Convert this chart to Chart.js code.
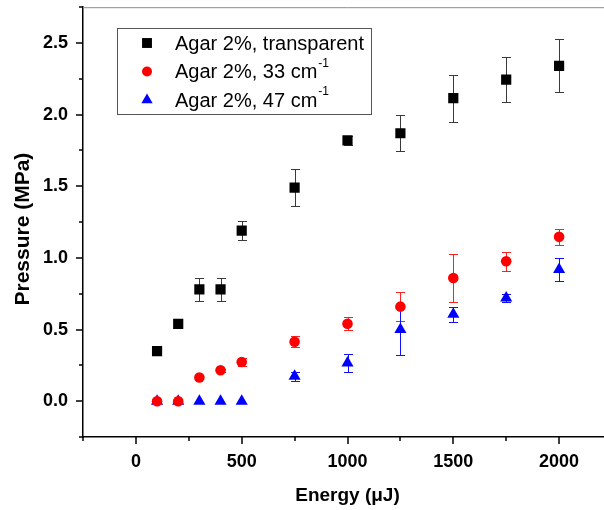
<!DOCTYPE html>
<html>
<head>
<meta charset="utf-8">
<script src="https://cdn.jsdelivr.net/npm/chart.js@4"></script>
<style>
  html, body { margin: 0; padding: 0; background: #fff; overflow: hidden; }
  #wrap { width: 604px; height: 510px; overflow: hidden; position: relative; }
  canvas { display: block; position: absolute; left: 0; top: 0; }
</style>
</head>
<body>
<div id="wrap"><canvas id="pressureChart" width="620" height="510"></canvas></div>
<script>
// laser pulse energy (uJ)
const energy = [100, 200, 300, 400, 500, 750, 1000, 1250, 1500, 1750, 2000];

// peak pressure (MPa) and standard deviation per sample
const transparent = [0.35, 0.54, 0.78, 0.78, 1.19, 1.49, 1.82, 1.87, 2.115, 2.245, 2.34];
const transparentErr = [0.02, 0.02, 0.08, 0.08, 0.065, 0.13, 0.03, 0.125, 0.165, 0.155, 0.185];
const mua33 = [0, 0, 0.165, 0.216, 0.274, 0.415, 0.541, 0.66, 0.86, 0.977, 1.147];
const mua33Err = [0.01, 0.01, 0.01, 0.01, 0.025, 0.04, 0.045, 0.1, 0.17, 0.065, 0.057];
const mua47 = [0, 0, 0, 0, 0, 0.174, 0.267, 0.5, 0.606, 0.72, 0.919];
const mua47Err = [0, 0, 0, 0, 0, 0.03, 0.065, 0.175, 0.05, 0.03, 0.08];

const seriesLabels = ["Agar 2%, transparent", "Agar 2%, 33 cm", "Agar 2%, 47 cm"];
const seriesSup = ["", "-1", "-1"];

const xTickLabels = [0, 500, 1000, 1500, 2000];
const yTickLabels = [0.0, 0.5, 1.0, 1.5, 2.0, 2.5];

const FONT = "Arial, 'Liberation Sans', sans-serif";

function points(ys) {
  return energy.map((x, i) => ({ x: x, y: ys[i] }));
}

function isMajor(list, v) {
  return list.some(t => Math.abs(t - v) < 1e-6);
}

// vertical error bars with caps, drawn under the markers
const errorBars = {
  id: "errorBars",
  beforeDatasetsDraw(chart) {
    const { ctx, scales: { x, y } } = chart;
    ctx.save();
    ctx.lineWidth = 1;
    chart.data.datasets.forEach(ds => {
      ctx.strokeStyle = ds.errColor;
      ds.data.forEach((p, i) => {
        const e = ds.err[i];
        if (!e) return;
        const px = Math.round(x.getPixelForValue(p.x));
        const top = Math.round(y.getPixelForValue(p.y + e));
        const bot = Math.round(y.getPixelForValue(p.y - e));
        ctx.beginPath();
        ctx.moveTo(px + 0.5, top);
        ctx.lineTo(px + 0.5, bot);
        ctx.moveTo(px - 4, top + 0.5);
        ctx.lineTo(px + 5, top + 0.5);
        ctx.moveTo(px - 4, bot + 0.5);
        ctx.lineTo(px + 5, bot + 0.5);
        ctx.stroke();
      });
    });
    ctx.restore();
  }
};

// outward tick marks (major + minor), grey top frame and the y title
const frame = {
  id: "frame",
  afterDraw(chart) {
    const { ctx, chartArea: a, scales: { x, y } } = chart;
    ctx.save();
    ctx.strokeStyle = "#000";
    ctx.lineWidth = 1.5;
    x.ticks.forEach(t => {
      const px = Math.round(x.getPixelForValue(t.value));
      const len = isMajor(xTickLabels, t.value) ? 7 : 4;
      ctx.beginPath();
      ctx.moveTo(px, a.bottom);
      ctx.lineTo(px, a.bottom + len);
      ctx.stroke();
    });
    y.ticks.forEach(t => {
      const py = Math.round(y.getPixelForValue(t.value));
      const len = isMajor(yTickLabels, t.value) ? 7 : 4;
      ctx.beginPath();
      ctx.moveTo(a.left - len, py);
      ctx.lineTo(a.left, py);
      ctx.stroke();
    });
    ctx.strokeStyle = "#8c8c8c";
    ctx.lineWidth = 1;
    ctx.beginPath();
    ctx.moveTo(a.left, a.top + 0.5);
    ctx.lineTo(a.right, a.top + 0.5);
    ctx.lineTo(a.right, a.bottom);
    ctx.stroke();

    // y axis title, sitting a little below the axis middle
    ctx.translate(23, (a.top + a.bottom) / 2 + 7);
    ctx.rotate(-Math.PI / 2);
    ctx.fillStyle = "#000";
    ctx.font = "bold 21px " + FONT;
    ctx.textAlign = "center";
    ctx.textBaseline = "middle";
    ctx.fillText("Pressure (MPa)", 0, 0);
    ctx.restore();
  }
};

// boxed legend with superscript units
const boxLegend = {
  id: "boxLegend",
  afterDraw(chart) {
    const ctx = chart.ctx;
    const bx = 117, by = 28, bw = 254, bh = 86;
    ctx.save();
    ctx.fillStyle = "#fff";
    ctx.fillRect(bx, by, bw, bh);
    ctx.strokeStyle = "#555";
    ctx.lineWidth = 1;
    ctx.strokeRect(bx + 0.5, by + 0.5, bw, bh);
    chart.data.datasets.forEach((ds, i) => {
      const rowY = 43 + i * 28.5;
      ctx.fillStyle = ds.backgroundColor;
      ctx.strokeStyle = ds.backgroundColor;
      Chart.helpers.drawPoint(ctx, {
        pointStyle: ds.pointStyle,
        radius: ds.legendRadius,
        rotation: 0,
        borderWidth: 0
      }, 147, rowY);
      ctx.fillStyle = "#000";
      ctx.textBaseline = "middle";
      ctx.font = "20px " + FONT;
      ctx.fillText(seriesLabels[i], 175, rowY + 1);
      if (seriesSup[i]) {
        const w = ctx.measureText(seriesLabels[i]).width;
        ctx.font = "12px " + FONT;
        ctx.fillText(seriesSup[i], 175 + w + 1, rowY - 8);
      }
    });
    ctx.restore();
  }
};

const tickFont = { family: FONT, size: 18, weight: "bold" };

new Chart(document.getElementById("pressureChart"), {
  type: "scatter",
  data: {
    datasets: [
      {
        label: seriesLabels[0],
        data: points(transparent),
        err: transparentErr,
        errColor: "#3a3a3a",
        pointStyle: "rect",
        pointRadius: 7.2,
        legendRadius: 7,
        backgroundColor: "#000000",
        borderColor: "#000000",
        borderWidth: 0
      },
      {
        label: seriesLabels[1] + seriesSup[1],
        data: points(mua33),
        err: mua33Err,
        errColor: "#ff2020",
        pointStyle: "circle",
        pointRadius: 5.3,
        legendRadius: 5,
        backgroundColor: "#ff0000",
        borderColor: "#ff0000",
        borderWidth: 0
      },
      {
        label: seriesLabels[2] + seriesSup[2],
        data: points(mua47),
        err: mua47Err,
        errColor: "#1010ff",
        pointStyle: "triangle",
        pointRadius: 7,
        legendRadius: 6.5,
        backgroundColor: "#0000ff",
        borderColor: "#0000ff",
        borderWidth: 0
      }
    ]
  },
  options: {
    responsive: false,
    animation: false,
    layout: { padding: { top: 6, right: 8, left: 34, bottom: 0 } },
    plugins: {
      legend: { display: false },
      tooltip: { enabled: false }
    },
    scales: {
      x: {
        type: "linear",
        min: -250,
        max: 2250,
        afterFit(s) {
          s.height = 73;
          s.paddingLeft = 0;
          s.paddingRight = 0;
        },
        grid: { display: false, drawTicks: false },
        border: { color: "#000", width: 1.5 },
        ticks: {
          stepSize: 250,
          autoSkip: false,
          maxRotation: 0,
          padding: 14,
          color: "#000",
          font: tickFont,
          callback: v => isMajor(xTickLabels, v) ? String(v) : ""
        },
        title: {
          display: true,
          text: "Energy (\u03bcJ)",
          color: "#000",
          font: { family: FONT, size: 19, weight: "bold" },
          padding: { top: 0, bottom: 3 }
        }
      },
      y: {
        min: -0.25,
        max: 2.75,
        afterFit(s) {
          s.width = 49;
          s.paddingTop = 0;
          s.paddingBottom = 0;
        },
        grid: { display: false, drawTicks: false },
        border: { color: "#000", width: 1.5 },
        ticks: {
          stepSize: 0.25,
          autoSkip: false,
          padding: 15,
          color: "#000",
          font: tickFont,
          callback: v => isMajor(yTickLabels, v) ? v.toFixed(1) : ""
        }
      }
    }
  },
  plugins: [errorBars, frame, boxLegend]
});
</script>
</body>
</html>
